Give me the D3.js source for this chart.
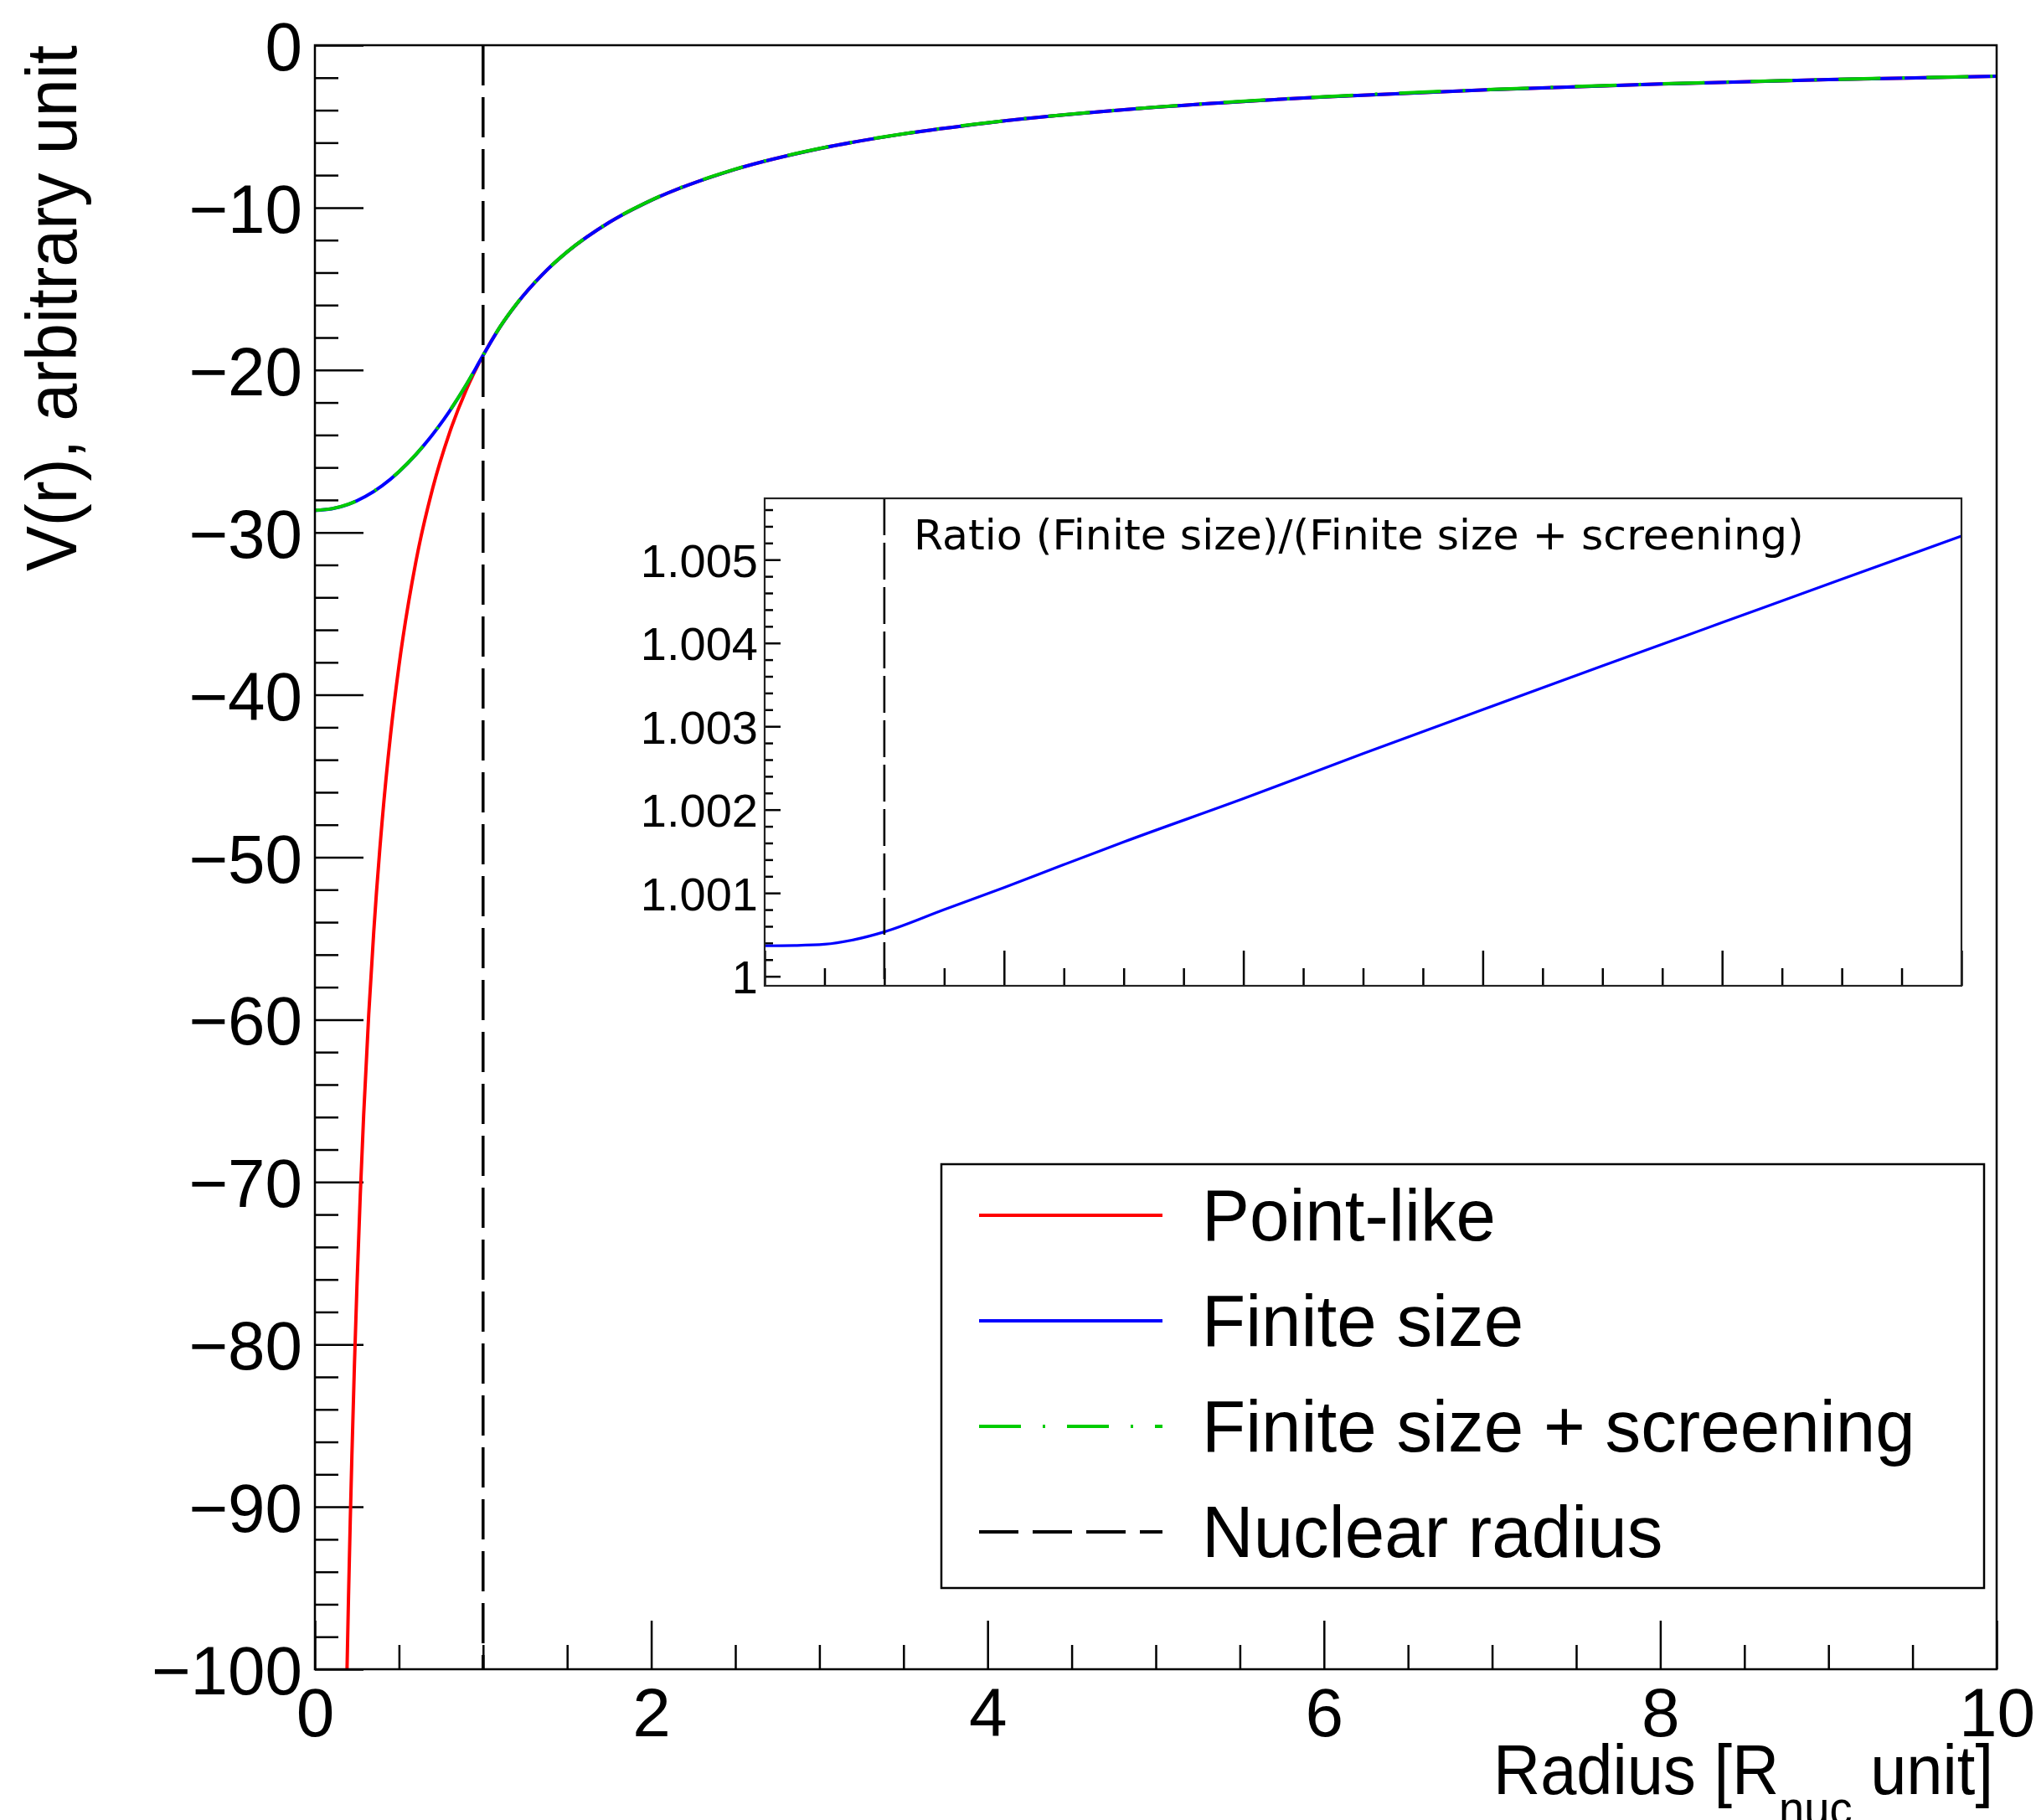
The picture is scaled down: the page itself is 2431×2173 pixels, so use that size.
<!DOCTYPE html>
<html>
<head>
<meta charset="utf-8">
<script src="https://cdn.jsdelivr.net/npm/d3@7"></script>
<style>
  body { margin: 0; background: #fff; }
  svg { display: block; }
</style>
</head>
<body>
<svg id="chart" width="2431" height="2173"></svg>
<script>
// ---------------- DATA ----------------
// Point-like potential (red)
const pointR = [0.191, 0.2, 0.21, 0.22, 0.235, 0.25, 0.27, 0.29, 0.32, 0.35, 0.4, 0.45, 0.5, 0.6, 0.7, 0.8, 0.9,
                1.0, 1.1, 1.2, 1.35, 1.5, 1.75, 2, 2.5, 3, 3.5, 4, 5, 6, 7, 8, 9, 10];
const pointV = [-100, -95.5, -90.95, -86.82, -81.28, -76.4, -70.74, -65.86, -59.69, -54.57, -47.75, -42.44, -38.2,
                -31.83, -27.29, -23.88, -21.22,
                -19.1, -17.36, -15.92, -14.15, -12.73, -10.91, -9.55, -7.64, -6.37, -5.46, -4.78, -3.82, -3.18, -2.73, -2.39, -2.12, -1.91];

// Finite size (blue) and finite size + screening (green)
const finiteR = [0, 0.1, 0.2, 0.3, 0.4, 0.5, 0.6, 0.7, 0.8, 0.9, 1.0, 1.1, 1.2, 1.35, 1.5, 1.75,
                 2, 2.5, 3, 3.5, 4, 5, 6, 7, 8, 9, 10];
const finiteV = [-28.65, -28.55, -28.27, -27.79, -27.12, -26.26, -25.21, -23.97, -22.54, -20.91, -19.10,
                 -17.36, -15.92, -14.15, -12.73, -10.91, -9.55, -7.64, -6.37, -5.46, -4.78, -3.82, -3.18,
                 -2.73, -2.39, -2.12, -1.91];
const screenV = [-28.64, -28.54, -28.26, -27.78, -27.11, -26.25, -25.20, -23.96, -22.53, -20.90, -19.09,
                 -17.35, -15.91, -14.14, -12.72, -10.90, -9.54, -7.63, -6.36, -5.45, -4.77, -3.81, -3.17,
                 -2.72, -2.38, -2.11, -1.90];

// Inset: ratio (Finite size)/(Finite size + screening)
const ratioR = [0, 0.25, 0.5, 0.75, 1, 1.5, 2, 2.5, 3, 4, 5, 6, 7, 8, 9, 10];
const ratioV = [1.000366, 1.000370, 1.000384, 1.000440, 1.000533, 1.000800, 1.001064, 1.001340, 1.001612,
                1.002132, 1.002672, 1.003200, 1.003725, 1.004245, 1.004765, 1.005283];

const nuclearRadius = 1;

// Ticks / labels
const mainXMajor = [0, 2, 4, 6, 8, 10];
const mainYMajor = [0, -10, -20, -30, -40, -50, -60, -70, -80, -90, -100];
const insetYMajor = [1.000, 1.001, 1.002, 1.003, 1.004, 1.005];
const insetYLabels = ["1", "1.001", "1.002", "1.003", "1.004", "1.005"];

const legendLabels = ["Point-like", "Finite size", "Finite size + screening", "Nuclear radius"];
const seriesColors = { point: "#ff0000", finite: "#0000ff", screen: "#00cc00", radius: "#000000" };

// ---------------- LAYOUT ----------------
const svg = d3.select("#chart");
const FONT = "'Liberation Sans', Arial, Helvetica, sans-serif";
const main = { left: 376, right: 2384, top: 54, bottom: 1993 };
const inset = { left: 913, right: 2342, top: 595, bottom: 1177 };

svg.append("rect").attr("width", 2431).attr("height", 2173).attr("fill", "#fff");

const x = d3.scaleLinear().domain([0, 10]).range([main.left, main.right]);
const y = d3.scaleLinear().domain([-100, 0]).range([main.bottom, main.top]);

svg.append("defs").append("clipPath").attr("id", "mainClip")
  .append("rect").attr("x", main.left).attr("y", main.top)
  .attr("width", main.right - main.left).attr("height", main.bottom - main.top);

// horizontally compress a text so that it matches the width measured in the reference
function squeeze(sel, scaleX, anchorX) {
  sel.attr("transform", `translate(${anchorX},0) scale(${scaleX},1) translate(${-anchorX},0)`);
}

// ---------------- MAIN AXES ----------------
function minorRange(a, b, step) {
  const out = []; const n = Math.round((b - a) / step);
  for (let i = 0; i <= n; i++) out.push(+(a + i * step).toFixed(6));
  return out;
}
const yMinor = minorRange(-100, 0, 2).filter(v => !mainYMajor.includes(v));
const xMinor = minorRange(0, 10, 0.5).filter(v => !mainXMajor.includes(v));

function styleAxis(g, fontSize) {
  g.select(".domain").remove();
  g.selectAll(".tick line").attr("stroke", "#000").attr("stroke-width", 2.5);
  g.selectAll(".tick text").attr("fill", "#000").attr("font-family", FONT).attr("font-size", fontSize);
}

const fmtMinus = d => (d < 0 ? "\u2212" + Math.abs(d) : String(d));

svg.append("g").attr("transform", `translate(${main.left},0)`)
  .call(d3.axisLeft(y).tickValues(yMinor).tickSize(-28).tickFormat(""))
  .call(g => styleAxis(g, 82));
svg.append("g").attr("transform", `translate(${main.left},0)`)
  .call(d3.axisLeft(y).tickValues(mainYMajor).tickSize(-58).tickPadding(15).tickFormat(fmtMinus))
  .call(g => { styleAxis(g, 82); g.selectAll(".tick text").attr("dy", "0.36em")
    .attr("transform", "translate(-15,0) scale(0.975,1) translate(15,0)"); });

svg.append("g").attr("transform", `translate(0,${main.bottom})`)
  .call(d3.axisBottom(x).tickValues(xMinor).tickSize(-29).tickFormat(""))
  .call(g => styleAxis(g, 82));
svg.append("g").attr("transform", `translate(0,${main.bottom})`)
  .call(d3.axisBottom(x).tickValues(mainXMajor).tickSize(-58).tickPadding(22).tickFormat(d => String(d)))
  .call(g => styleAxis(g, 82));

// ---------------- MAIN CURVES ----------------
const line = d3.line().x(d => x(d[0])).y(d => y(d[1])).curve(d3.curveMonotoneX);
const curves = svg.append("g").attr("clip-path", "url(#mainClip)");

curves.append("path").datum(pointR.map((r, i) => [r, pointV[i]]))
  .attr("d", line).attr("fill", "none").attr("stroke", seriesColors.point).attr("stroke-width", 4);
curves.append("path").datum(finiteR.map((r, i) => [r, finiteV[i]]))
  .attr("d", line).attr("fill", "none").attr("stroke", seriesColors.finite).attr("stroke-width", 4);
curves.append("path").datum(finiteR.map((r, i) => [r, screenV[i]]))
  .attr("d", line).attr("fill", "none").attr("stroke", seriesColors.screen).attr("stroke-width", 4)
  .attr("stroke-dasharray", "50,26,3,26");

// Nuclear radius dashed line
svg.append("line")
  .attr("x1", x(nuclearRadius)).attr("x2", x(nuclearRadius))
  .attr("y1", y(0)).attr("y2", y(-100))
  .attr("stroke", "#000").attr("stroke-width", 3.5).attr("stroke-dasharray", "48,14");

// ---------------- INSET ----------------
const xi = d3.scaleLinear().domain([0, 10]).range([inset.left, inset.right]);
const yi = d3.scaleLinear().domain([0.999886, 1.005736]).range([inset.bottom, inset.top]);

svg.append("rect").attr("x", inset.left).attr("y", inset.top)
  .attr("width", inset.right - inset.left).attr("height", inset.bottom - inset.top)
  .attr("fill", "#fff");

const yiMinor = minorRange(1.0, 1.0056, 0.0002).filter(v => !insetYMajor.some(m => Math.abs(m - v) < 1e-9));
const xiMajor = [0, 2, 4, 6, 8, 10];
const xiMinor = minorRange(0, 10, 0.5).filter(v => !xiMajor.includes(v));

svg.append("g").attr("transform", `translate(${inset.left},0)`)
  .call(d3.axisLeft(yi).tickValues(yiMinor).tickSize(-10).tickFormat(""))
  .call(g => styleAxis(g, 56));
svg.append("g").attr("transform", `translate(${inset.left},0)`)
  .call(d3.axisLeft(yi).tickValues(insetYMajor).tickSize(-19).tickPadding(8)
        .tickFormat((d, i) => insetYLabels[i]))
  .call(g => { styleAxis(g, 56); g.selectAll(".tick text").attr("dy", "0.36em"); });
svg.append("g").attr("transform", `translate(0,${inset.bottom})`)
  .call(d3.axisBottom(xi).tickValues(xiMinor).tickSize(-21).tickFormat(""))
  .call(g => styleAxis(g, 56));
svg.append("g").attr("transform", `translate(0,${inset.bottom})`)
  .call(d3.axisBottom(xi).tickValues(xiMajor).tickSize(-42).tickFormat(""))
  .call(g => styleAxis(g, 56));

const lineI = d3.line().x(d => xi(d[0])).y(d => yi(d[1])).curve(d3.curveMonotoneX);
svg.append("path").datum(ratioR.map((r, i) => [r, ratioV[i]]))
  .attr("d", lineI).attr("fill", "none").attr("stroke", seriesColors.finite).attr("stroke-width", 3.2);

svg.append("line")
  .attr("x1", xi(nuclearRadius)).attr("x2", xi(nuclearRadius))
  .attr("y1", inset.top).attr("y2", inset.bottom)
  .attr("stroke", "#000").attr("stroke-width", 2.6).attr("stroke-dasharray", "44,9");

const insetTitle = svg.append("text")
  .attr("x", 1091).attr("y", 656)
  .attr("font-family", "'DejaVu Sans', Verdana, sans-serif").attr("font-size", 47)
  .attr("fill", "#000")
  .text("Ratio (Finite size)/(Finite size + screening)");
(function () {
  const w = insetTitle.node().getComputedTextLength();
  const target = 1063;
  if (w > 0) insetTitle.attr("font-size", 47 * target / w);
})();

svg.append("rect").attr("x", inset.left).attr("y", inset.top)
  .attr("width", inset.right - inset.left).attr("height", inset.bottom - inset.top)
  .attr("fill", "none").attr("stroke", "#222").attr("stroke-width", 2.2);

// ---------------- LEGEND ----------------
const leg = { left: 1124, top: 1390, right: 2369, bottom: 1896 };
svg.append("rect").attr("x", leg.left).attr("y", leg.top)
  .attr("width", leg.right - leg.left).attr("height", leg.bottom - leg.top)
  .attr("fill", "#fff").attr("stroke", "#000").attr("stroke-width", 2.5);

const legendStyles = [
  { color: seriesColors.point, dash: null },
  { color: seriesColors.finite, dash: null },
  { color: seriesColors.screen, dash: "50,26,3,26" },
  { color: seriesColors.radius, dash: "47,17" }
];
const legY = d3.scalePoint().domain(legendLabels).range([1451, 1829]);
legendLabels.forEach((lab, i) => {
  const yy = legY(lab);
  svg.append("line").attr("x1", 1169).attr("x2", 1388).attr("y1", yy).attr("y2", yy)
    .attr("stroke", legendStyles[i].color).attr("stroke-width", 4)
    .attr("stroke-dasharray", legendStyles[i].dash);
  const t = svg.append("text").attr("x", 1435).attr("y", yy + 30)
    .attr("font-family", FONT).attr("font-size", 88).attr("fill", "#000").text(lab);
  squeeze(t, 0.97, 1435);
});

// ---------------- FRAME & TITLES ----------------
svg.append("rect").attr("x", main.left).attr("y", main.top)
  .attr("width", main.right - main.left).attr("height", main.bottom - main.top)
  .attr("fill", "none").attr("stroke", "#000").attr("stroke-width", 2.5);

const xt = svg.append("text").attr("x", 2380).attr("y", 2142).attr("text-anchor", "end")
  .attr("font-family", FONT).attr("font-size", 83).attr("fill", "#000");
xt.append("tspan").text("Radius [R");
xt.append("tspan").attr("dy", 37).attr("font-size", 58).text("nuc");
xt.append("tspan").attr("dy", -37).text(" unit]");
(function () {
  const w = xt.node().getBBox().width;
  const target = 597;
  if (w > 0) squeeze(xt, target / w, 2380);
})();

const yt = svg.append("text").attr("transform", "translate(91,54) rotate(-90)")
  .attr("text-anchor", "end").attr("font-family", FONT).attr("font-size", 86).attr("fill", "#000")
  .attr("textLength", 628).attr("lengthAdjust", "spacingAndGlyphs")
  .text("V(r), arbitrary unit");
</script>
</body>
</html>
